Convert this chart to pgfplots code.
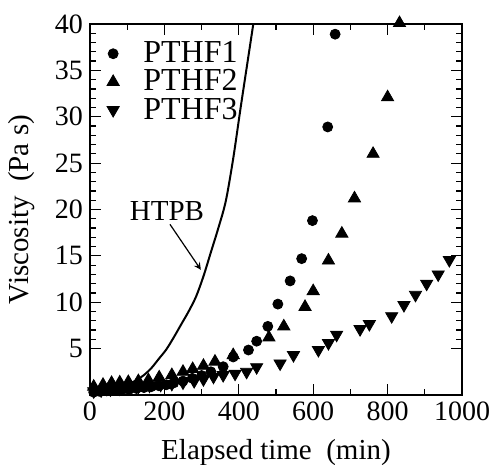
\documentclass[border=0pt]{standalone}
\usepackage{fontspec}
\setmainfont{Liberation Serif}
\usepackage{pgfplots}
\pgfplotsset{compat=1.18}
\pgfplotsset{
    wide legend/.style={
        legend image code/.code={
            \path[draw=none, fill=none] (0cm,-0.1cm) rectangle (0.82cm,0.1cm);
            \draw[#1] plot coordinates {(0.36cm,0cm)};
        }
    }
}

\begin{document}
\begin{tikzpicture}
\begin{axis}[
    scale only axis,
    width=186pt, height=185.5pt,
    xmin=0, xmax=1000, ymin=0, ymax=40,
    xtick={0,200,...,1000},
    ytick={5,10,...,40},
    minor x tick num=1,
    minor y tick num=4,
    tick align=inside,
    major tick length=5.5pt,
    minor tick length=3pt,
    tick style={black, line width=0.6pt},
    axis line style={line width=0.7pt},
    /pgf/number format/assume math mode=true,
    /pgf/number format/1000 sep={},
    tick label style={font=\fontsize{14}{16}\selectfont},
    xlabel={Elapsed time\ \ (min)},
    ylabel={Viscosity\ \ (Pa s)},
    label style={font=\fontsize{14.5}{16}\selectfont},
    xlabel style={yshift=-2.5pt},
    ylabel style={yshift=3pt},
    clip=false,
    legend style={draw=none, fill=none, at={(-0.01,0.975)}, anchor=north west,
        font=\fontsize{16}{16}\selectfont, row sep=-2pt},
    legend cell align=left,
]
% PTHF1
\addplot[only marks, mark=*, mark size=2.5pt, black, wide legend] coordinates {
    (10,0.3) (25,0.4) (45,0.45) (65,0.5) (85,0.55) (105,0.6) (125,0.7)
    (145,0.8) (165,0.9) (185,1.0) (205,1.1) (225,1.3) (250,1.5)
    (275,1.8) (300,2.1) (325,2.5) (358,3.05) (385,4.1) (426,4.85)
    (448,5.8) (478,7.4) (505,9.8) (538,12.3) (569,14.7) (598,18.8)
    (639,28.9) (659,38.9)
};
\addlegendentry{PTHF1}
% PTHF2
\addplot[only marks, mark=triangle*, mark size=3.5pt, black, wide legend] coordinates {
    (10,0.9) (35,1.1) (58,1.3) (80,1.35) (103,1.4) (130,1.5) (157,1.6)
    (186,1.9) (220,2.15) (250,2.5) (276,2.8) (305,3.15) (336,3.6)
    (385,4.3) (481,6.2) (521,7.4) (578,9.5) (600,11.2) (641,14.5)
    (677,17.4) (711,21.2) (761,26.0) (800,32.1) (832,40.1)
};
\addlegendentry{PTHF2}
% PTHF3
\addplot[only marks, mark=triangle*, mark size=3.5pt, mark options={rotate=180}, black, wide legend] coordinates {
    (10,0.4) (30,0.5) (55,0.6) (80,0.7) (105,0.8) (130,0.9) (160,1.0)
    (190,1.1) (220,1.2) (250,1.35) (280,1.5) (305,1.7) (332,1.97)
    (358,2.15) (390,2.3) (421,2.5) (448,3.0) (511,3.4) (547,4.3)
    (614,4.85) (641,5.6) (663,6.5) (726,7.1) (751,7.65) (811,8.5)
    (844,9.7) (875,10.8) (905,12.0) (936,13.0) (966,14.55)
};
\addlegendentry{PTHF3}
% HTPB
\addplot[black, line width=1pt, smooth, forget plot] coordinates {
    (0,0.8) (40,0.9) (80,1.05) (105,1.25) (125,1.6) (145,2.15)
    (165,2.9) (185,3.9) (205,4.9) (225,6.2) (245,7.6) (265,9.0)
    (285,10.6) (305,12.8) (325,15.4) (345,18.0) (365,20.9) (385,25.5)
    (405,31.0) (425,36.3) (439,40.0)
};
\coordinate (ll) at (rel axis cs:0,0);
\coordinate (ur) at (rel axis cs:1,1);
\node[font=\fontsize{14.5}{16}\selectfont] at (axis cs:207,19.8) {HTPB};
\draw[-stealth, line width=0.6pt] (axis cs:215,18.4) -- (axis cs:298,13.5);
\end{axis}
\pgfresetboundingbox
\path[use as bounding box] ([shift={(-45pt,-35pt)}]ll) rectangle ([shift={(15.5pt,12pt)}]ur);
\end{tikzpicture}
\end{document}
